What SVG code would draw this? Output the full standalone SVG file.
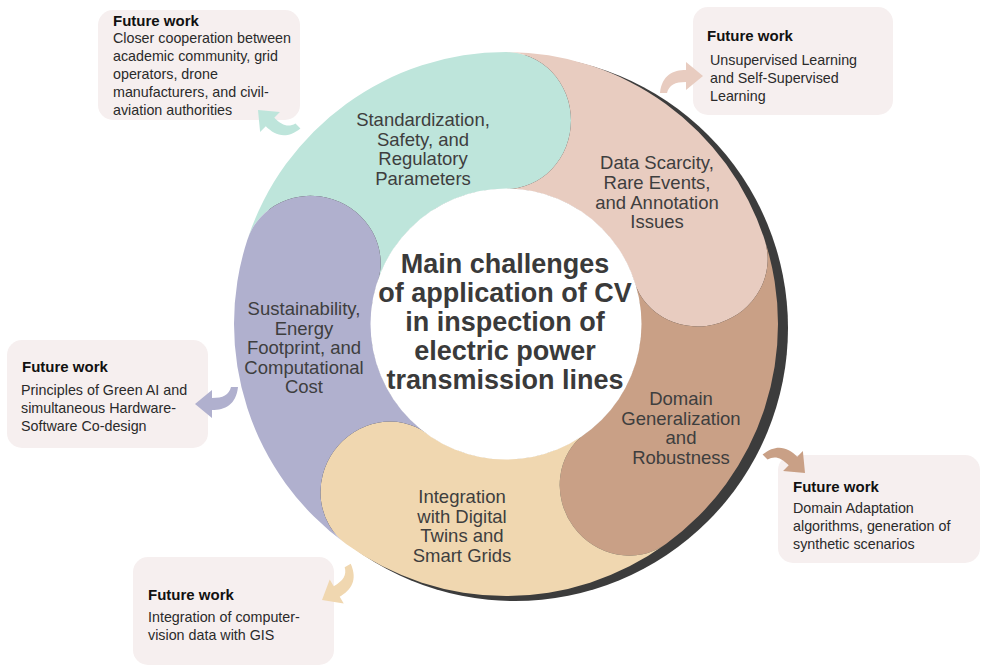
<svg xmlns="http://www.w3.org/2000/svg" width="986" height="672" viewBox="0 0 986 672">
<style>
.lbl{font-family:"Liberation Sans",Arial,sans-serif;font-size:18.5px;fill:#3e3e3e;text-anchor:middle}
.ttl{font-family:"Liberation Sans",Arial,sans-serif;font-size:27px;font-weight:bold;fill:#3a3a3a;text-anchor:middle}
.box{fill:#f6efef}
.hd{font-family:"Liberation Sans",Arial,sans-serif;font-size:15px;font-weight:bold;fill:#111}
.bt{font-family:"Liberation Sans",Arial,sans-serif;font-size:14.3px;fill:#2a2a2a}
</style>
<defs>
<path id="arr" d="M 0 0 L -17 -14 L -17 -6 C -30 -6 -41 -1 -43 17 L -36 17 C -34 9 -28 6 -17 6 L -17 14 Z"/>
</defs>
<rect width="986" height="672" fill="#ffffff"/>
<circle id="shadow" cx="515" cy="328" r="273" fill="#3c3c3c"/>
<g id="seg-standardization">
<path d="M 247.31 239.95 A 272 272 0 0 1 506 52 A 68.5 65 -90 0 1 506 189 A 135 135 0 0 0 377.61 282.28 A 68.5 65 198 0 0 247.31 239.95 Z" fill="#bee5db"/>
</g>
<g id="seg-data">
<path d="M 506 52 A 272 272 0 0 1 764.69 239.95 A 68.5 65 -18 0 1 634.39 282.28 A 135 135 0 0 0 506 189 A 68.5 65 -90 0 0 506 52 Z" fill="#e8ccc0"/>
</g>
<g id="seg-domain">
<path d="M 764.69 239.95 A 272 272 0 0 1 665.88 544.05 A 68.5 65 54 0 1 585.35 433.22 A 135 135 0 0 0 634.39 282.28 A 68.5 65 -18 0 0 764.69 239.95 Z" fill="#c9a086"/>
</g>
<g id="seg-integration">
<path d="M 665.88 544.05 A 272 272 0 0 1 346.12 544.05 A 68.5 65 126 0 1 426.65 433.22 A 135 135 0 0 0 585.35 433.22 A 68.5 65 54 0 0 665.88 544.05 Z" fill="#f0d7b0"/>
</g>
<g id="seg-sustainability">
<path d="M 346.12 544.05 A 272 272 0 0 1 247.31 239.95 A 68.5 65 198 0 1 377.61 282.28 A 135 135 0 0 0 426.65 433.22 A 68.5 65 126 0 0 346.12 544.05 Z" fill="#b0b0ce"/>
</g>
<g id="center">
<circle cx="506" cy="324" r="135.5" fill="#ffffff"/>
<text class="ttl" x="505"><tspan x="505" y="273">Main challenges</tspan><tspan x="505" y="302">of application of CV</tspan><tspan x="505" y="331">in inspection of</tspan><tspan x="505" y="360">electric power</tspan><tspan x="505" y="389">transmission lines</tspan></text>
</g>
<g id="labels">
<text class="lbl"><tspan x="423" y="126">Standardization,</tspan><tspan x="423" y="145.5">Safety, and</tspan><tspan x="423" y="165">Regulatory</tspan><tspan x="423" y="184.5">Parameters</tspan></text>
<text class="lbl"><tspan x="657" y="169">Data Scarcity,</tspan><tspan x="657" y="189">Rare Events,</tspan><tspan x="657" y="208.5">and Annotation</tspan><tspan x="657" y="228">Issues</tspan></text>
<text class="lbl"><tspan x="681" y="405">Domain</tspan><tspan x="681" y="424.5">Generalization</tspan><tspan x="681" y="444">and</tspan><tspan x="681" y="463.5">Robustness</tspan></text>
<text class="lbl"><tspan x="462" y="503">Integration</tspan><tspan x="462" y="522.5">with Digital</tspan><tspan x="462" y="542">Twins and</tspan><tspan x="462" y="561.5">Smart Grids</tspan></text>
<text class="lbl"><tspan x="304" y="315">Sustainability,</tspan><tspan x="304" y="334.5">Energy</tspan><tspan x="304" y="354">Footprint, and</tspan><tspan x="304" y="373.5">Computational</tspan><tspan x="304" y="393">Cost</tspan></text>
</g>
<g id="fw-standardization">
<rect class="box" x="98" y="10" width="202" height="110" rx="15"/>
<text class="hd" x="113" y="26">Future work</text>
<text class="bt"><tspan x="113" y="43">Closer cooperation between</tspan><tspan x="113" y="61">academic community, grid</tspan><tspan x="113" y="79">operators, drone</tspan><tspan x="113" y="97">manufacturers, and civil-</tspan><tspan x="113" y="115">aviation authorities</tspan></text>
</g>
<g id="fw-data">
<rect class="box" x="693" y="7" width="200" height="108" rx="15"/>
<text class="hd" x="707" y="41">Future work</text>
<text class="bt"><tspan x="710" y="65">Unsupervised Learning</tspan><tspan x="710" y="83">and Self-Supervised</tspan><tspan x="710" y="101">Learning</tspan></text>
</g>
<g id="fw-sustainability">
<rect class="box" x="7" y="340" width="201" height="108" rx="15"/>
<text class="hd" x="22" y="372">Future work</text>
<text class="bt"><tspan x="21" y="395">Principles of Green AI and</tspan><tspan x="21" y="413">simultaneous Hardware-</tspan><tspan x="21" y="431">Software Co-design</tspan></text>
</g>
<g id="fw-domain">
<rect class="box" x="778" y="455" width="202" height="108" rx="15"/>
<text class="hd" x="793" y="492">Future work</text>
<text class="bt"><tspan x="793" y="513">Domain Adaptation</tspan><tspan x="793" y="531">algorithms, generation of</tspan><tspan x="793" y="549">synthetic scenarios</tspan></text>
</g>
<g id="fw-integration">
<rect class="box" x="133" y="557" width="201" height="108" rx="15"/>
<text class="hd" x="148" y="600">Future work</text>
<text class="bt"><tspan x="148" y="622">Integration of computer-</tspan><tspan x="148" y="640">vision data with GIS</tspan></text>
</g>
<g id="connectors">
<use href="#arr" transform="translate(258,110) rotate(225)" fill="#bee5db"/>
<use href="#arr" transform="translate(703,76)" fill="#e8ccc0"/>
<use href="#arr" transform="translate(195,404) rotate(180)" fill="#b0b0ce"/>
<use href="#arr" transform="translate(805,473) rotate(45)" fill="#c9a086"/>
<use href="#arr" transform="translate(322,600) rotate(150)" fill="#f0d7b0"/>
</g>
</svg>
